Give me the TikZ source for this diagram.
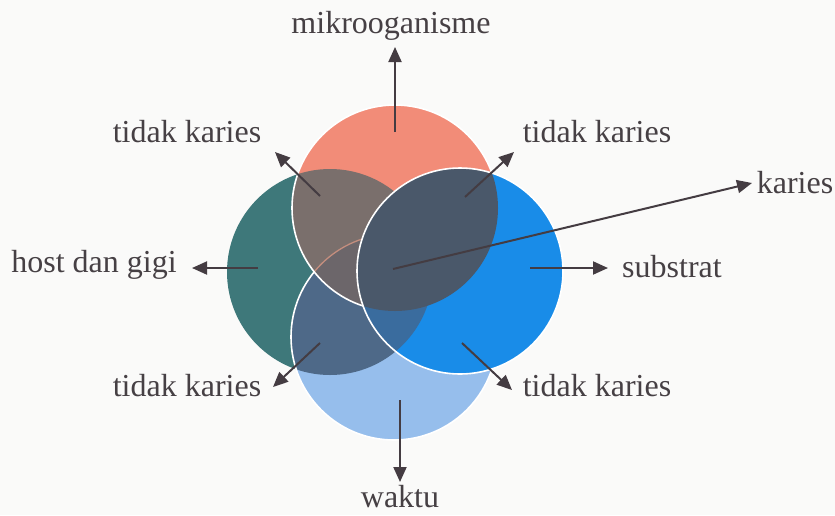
\documentclass[tikz,border=0pt]{standalone}
\usepackage{fontspec}
\setmainfont{Liberation Serif}
\usetikzlibrary{arrows.meta}
\definecolor{bgc}{RGB}{250,250,249}
\definecolor{cT}{RGB}{242,140,120}
\definecolor{cL}{RGB}{62,120,122}
\definecolor{cR}{RGB}{25,140,232}
\definecolor{cB}{RGB}{150,190,236}
\definecolor{cLB}{RGB}{78,105,136}
\definecolor{cLBR}{RGB}{58,108,158}
\definecolor{cTL}{RGB}{122,111,108}
\definecolor{cTLB}{RGB}{108,102,106}
\definecolor{cTR}{RGB}{74,88,106}
\definecolor{faint}{RGB}{196,142,126}
\definecolor{arrowc}{RGB}{68,60,66}
\definecolor{textc}{RGB}{70,64,68}
\begin{document}
\begin{tikzpicture}[x=1pt,y=-1pt,
  arr/.style={draw=arrowc, line width=2pt, -{Triangle[length=15pt,width=13pt]}},
  lbl/.style={text=textc, font=\fontsize{32}{38}\selectfont, inner sep=0pt, anchor=base},
  outl/.style={draw=white, line width=1.6pt}]
\useasboundingbox (0,0) rectangle (835,515);
\fill[bgc] (0,0) rectangle (835,515);
\coordinate (oT) at (395,208);
\coordinate (oL) at (330,272);
\coordinate (oR) at (460,271);
\coordinate (oB) at (394,337);
\def\R{103pt}
% left
\fill[cL] (oL) circle[radius=\R];
% bottom
\fill[cB] (oB) circle[radius=\R];
\begin{scope}\clip (oL) circle[radius=\R]; \fill[cLB] (oB) circle[radius=\R];\end{scope}
\draw[outl] (oB) circle[radius=\R];
% top
\fill[cT] (oT) circle[radius=\R];
\begin{scope}\clip (oL) circle[radius=\R]; \fill[cTL] (oT) circle[radius=\R];
  \clip (oB) circle[radius=\R]; \fill[cTLB] (oT) circle[radius=\R];\end{scope}
\begin{scope}\clip (oL) circle[radius=\R]; \clip (oT) circle[radius=\R];
  \draw[faint, line width=1.3pt] (oB) circle[radius=\R];\end{scope}
\draw[outl] (oT) circle[radius=\R];
% right
\fill[cR] (oR) circle[radius=\R];
\begin{scope}\clip (oL) circle[radius=\R]; \clip (oB) circle[radius=\R]; \fill[cLBR] (oR) circle[radius=\R];\end{scope}
\begin{scope}\clip (oT) circle[radius=\R]; \fill[cTR] (oR) circle[radius=\R];\end{scope}
\draw[outl] (oR) circle[radius=\R];
% labels
\node[lbl] (mik) at (391,33) {mikrooganisme};
\node[lbl] (tl) at (187,142) {tidak karies};
\node[lbl] (tr) at (597,142) {tidak karies};
\node[lbl] (kar) at (795,193) {karies};
\node[lbl] (sub) at (672,277) {substrat};
\node[lbl] (host) at (94,272) {host dan gigi};
\node[lbl] (bl) at (187,396) {tidak karies};
\node[lbl] (br) at (597,396) {tidak karies};
\node[lbl] (wak) at (400,507) {waktu};
% arrow ends
\coordinate (mikA) at (395,132); \coordinate (mikB) at (395,47);
\coordinate (tlA) at (320,196); \coordinate (tlB) at (275,152);
\coordinate (trA) at (465,197); \coordinate (trB) at (514,152);
\coordinate (karA) at (393,269); \coordinate (karB) at (752,183);
\coordinate (subA) at (530,268); \coordinate (subB) at (608,268);
\coordinate (hostA) at (258,268); \coordinate (hostB) at (192,268);
\coordinate (blA) at (320,343); \coordinate (blB) at (273,387);
\coordinate (brA) at (462,343); \coordinate (brB) at (512,390);
\coordinate (wakA) at (400,400); \coordinate (wakB) at (400,482);
\foreach \n in {mik,tl,tr,kar,sub,host,bl,br,wak}{\draw[arr] (\n A) -- (\n B);}
\end{tikzpicture}
\end{document}
